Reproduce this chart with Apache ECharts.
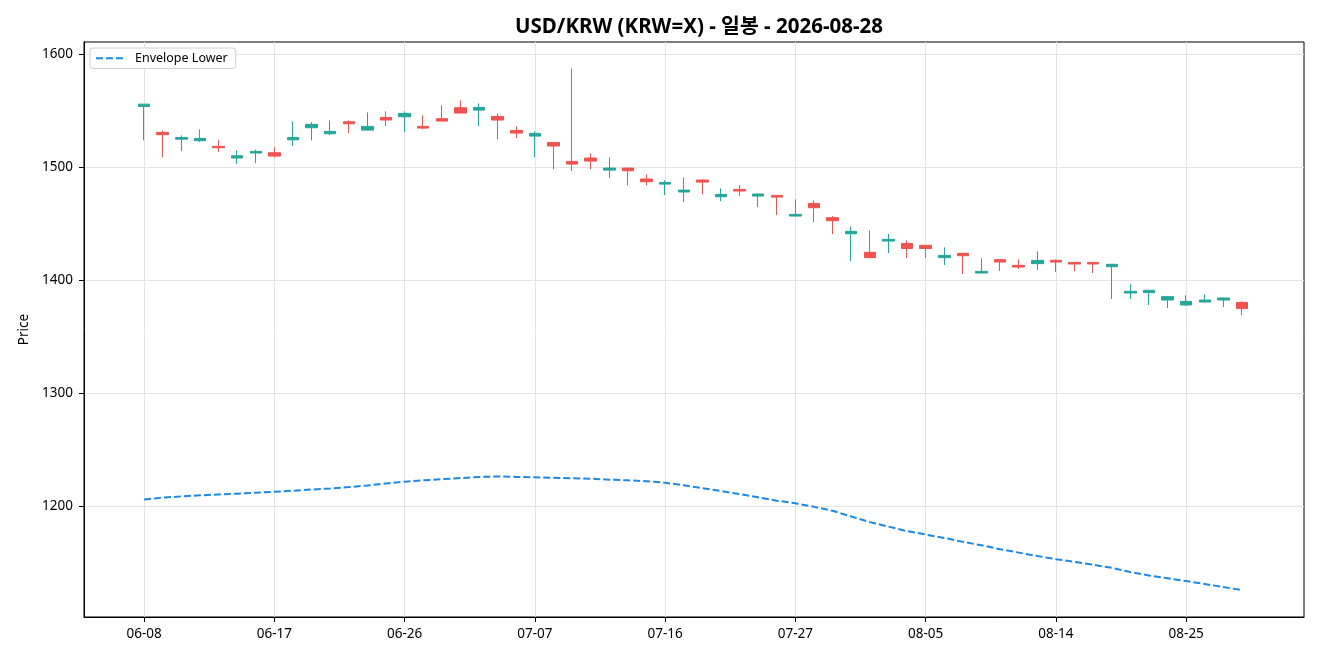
<!DOCTYPE html>
<html>
<head>
<meta charset="utf-8">
<script src="https://cdn.jsdelivr.net/npm/echarts@6/dist/echarts.min.js"></script>
<style>
  html, body { margin: 0; padding: 0; background: #fff; }
  #chart { width: 1320px; height: 660px; }
</style>
</head>
<body>
<div id="chart"></div>
<script>
// trading days (weekdays) 2026-06-08 .. 2026-08-28
const dates = [
  '06-08','06-09','06-10','06-11','06-12','06-15','06-16','06-17','06-18','06-19',
  '06-22','06-23','06-24','06-25','06-26','06-29','06-30','07-01','07-02','07-03',
  '07-06','07-07','07-08','07-09','07-10','07-13','07-14','07-15','07-16','07-17',
  '07-20','07-21','07-22','07-23','07-24','07-27','07-28','07-29','07-30','07-31',
  '08-03','08-04','08-05','08-06','08-07','08-10','08-11','08-12','08-13','08-14',
  '08-17','08-18','08-19','08-20','08-21','08-24','08-25','08-26','08-27','08-28'
];

const opens = [
  1554.0, 1531.0, 1525.0, 1523.6, 1518.6, 1508.3, 1512.7, 1513.0, 1524.4, 1535.1,
  1529.8, 1540.4, 1533.0, 1544.2, 1544.8, 1536.3, 1543.1, 1552.8, 1550.7, 1545.1,
  1532.7, 1527.7, 1522.1, 1505.3, 1508.3, 1497.6, 1499.4, 1489.7, 1485.2, 1478.2,
  1488.8, 1474.0, 1480.5, 1474.6, 1475.2, 1456.9, 1468.1, 1455.5, 1441.3, 1424.8,
  1434.8, 1432.7, 1431.0, 1420.1, 1423.9, 1406.5, 1418.3, 1413.3, 1414.8, 1417.7,
  1415.9, 1415.9, 1412.1, 1388.8, 1389.1, 1382.6, 1378.2, 1380.8, 1382.6, 1380.5
];
const closes = [
  1556.0, 1529.0, 1526.5, 1525.7, 1517.4, 1510.3, 1514.2, 1510.0, 1526.5, 1538.1,
  1531.9, 1538.6, 1536.3, 1541.9, 1547.8, 1534.8, 1541.0, 1548.1, 1553.1, 1541.9,
  1530.4, 1530.1, 1518.9, 1502.9, 1505.6, 1499.4, 1497.0, 1487.3, 1486.7, 1479.9,
  1487.0, 1476.1, 1479.1, 1476.4, 1473.7, 1458.4, 1464.3, 1452.8, 1443.4, 1420.1,
  1436.3, 1428.2, 1428.2, 1422.1, 1421.8, 1408.0, 1416.2, 1411.8, 1417.7, 1416.2,
  1414.5, 1414.5, 1414.2, 1390.3, 1391.2, 1385.6, 1381.4, 1382.6, 1384.4, 1375.0
];
const lows = [
  1524.0, 1509.0, 1514.5, 1522.4, 1513.6, 1503.0, 1503.8, 1508.8, 1518.9, 1523.9,
  1528.6, 1530.4, 1532.7, 1536.6, 1531.3, 1533.6, 1541.0, 1548.1, 1536.6, 1524.8,
  1526.0, 1509.1, 1498.5, 1496.8, 1498.5, 1490.6, 1484.1, 1484.1, 1475.5, 1469.3,
  1476.1, 1470.2, 1474.6, 1464.9, 1457.8, 1456.9, 1451.6, 1441.0, 1417.1, 1420.1,
  1424.2, 1419.8, 1419.8, 1413.6, 1405.6, 1406.5, 1408.3, 1410.0, 1409.1, 1407.4,
  1408.0, 1406.5, 1383.5, 1383.5, 1378.2, 1375.5, 1377.5, 1380.8, 1376.4, 1369.3
];
const highs = [
  1556.0, 1532.5, 1528.3, 1533.6, 1524.0, 1515.0, 1515.6, 1517.7, 1540.7, 1540.1,
  1541.6, 1541.6, 1548.7, 1549.6, 1549.6, 1546.0, 1554.9, 1559.3, 1556.6, 1547.8,
  1536.3, 1531.9, 1522.1, 1587.6, 1512.4, 1508.8, 1499.4, 1493.8, 1488.5, 1491.2,
  1489.4, 1481.4, 1484.4, 1477.0, 1475.2, 1471.7, 1470.8, 1456.9, 1447.8, 1444.2,
  1441.0, 1435.4, 1431.0, 1429.2, 1424.5, 1419.5, 1418.9, 1418.6, 1425.7, 1418.6,
  1415.9, 1416.0, 1414.2, 1396.5, 1391.2, 1385.9, 1386.7, 1387.6, 1385.0, 1381.4
];
const envelopeLower = [
  1206.0, 1207.6, 1208.8, 1209.7, 1210.5, 1211.2, 1212.0, 1212.8, 1213.8, 1214.8,
  1215.8, 1217.0, 1218.4, 1220.2, 1221.8, 1223.0, 1224.0, 1225.0, 1226.0, 1226.4,
  1226.0, 1225.6, 1225.2, 1224.8, 1224.4, 1223.6, 1223.0, 1222.2, 1220.8, 1218.6,
  1216.0, 1213.5, 1210.8, 1208.0, 1205.0, 1202.6, 1199.5, 1196.0, 1191.0, 1186.0,
  1182.0, 1178.0, 1175.0, 1172.0, 1168.5, 1165.5, 1162.0, 1159.0, 1156.0, 1153.2,
  1150.8, 1148.3, 1145.5, 1141.8, 1138.8, 1136.3, 1133.8, 1131.2, 1128.5, 1125.8
];
const xTicks = [0, 7, 14, 21, 28, 35, 42, 49, 56];
const yTicks = [1200, 1300, 1400, 1500, 1600];

const candleData = dates.map((d, i) => [i, opens[i], closes[i], lows[i], highs[i]]);
const envData = dates.map((d, i) => [i, envelopeLower[i]]);

const UP = '#26a69a', DOWN = '#ef5350';
const FONT = "'Noto Sans', 'Noto Sans CJK KR', sans-serif";

const chart = echarts.init(document.getElementById('chart'));
chart.setOption({
  animation: false,
  textStyle: { fontFamily: FONT },
  title: {
    text: 'USD/KRW (KRW=X) - 일봉 - 2026-08-28',
    left: 694, top: 12, textAlign: 'center',
    textStyle: { fontFamily: FONT, fontSize: 20.5, fontWeight: 'bold', color: '#000' }
  },
  legend: {
    data: ['Envelope Lower'],
    left: 90, top: 48,
    padding: [4, 8, 4, 5],
    itemWidth: 28, itemHeight: 14, itemGap: 6,
    backgroundColor: '#fff',
    borderColor: '#d0d0d0', borderWidth: 1, borderRadius: 3,
    itemStyle: { color: 'rgba(0,0,0,0)', borderWidth: 0 },
    textStyle: { fontFamily: FONT, fontSize: 12.5, color: '#000', padding: [0, 0, 0, 6] }
  },
  grid: {
    left: 84, right: 16, top: 42, bottom: 43,
    show: true, borderColor: '#000', borderWidth: 1, backgroundColor: '#fff'
  },
  xAxis: {
    type: 'value',
    min: -3.23, max: 62.33,
    axisLine: { show: true, onZero: false, lineStyle: { color: '#000' } },
    axisTick: { show: true, length: 5, customValues: xTicks, lineStyle: { color: '#000' } },
    axisLabel: {
      customValues: xTicks, margin: 10, fontSize: 13.5, color: '#000', fontFamily: FONT,
      formatter: v => dates[Math.round(v)]
    },
    splitLine: { show: true, lineStyle: { color: '#e3e3e3', width: 1 } }
  },
  yAxis: {
    type: 'value',
    min: 1102, max: 1611,
    name: 'Price', nameLocation: 'middle', nameGap: 53, nameRotate: 90,
    nameTextStyle: { fontFamily: FONT, fontSize: 13.5, color: '#000' },
    axisLine: { show: true, onZero: false, lineStyle: { color: '#000' } },
    axisTick: { show: true, length: 5, customValues: yTicks, lineStyle: { color: '#000' } },
    axisLabel: {
      customValues: yTicks, margin: 11, fontSize: 13.5, color: '#000', fontFamily: FONT,
      formatter: v => String(v)
    },
    splitLine: { show: true, lineStyle: { color: '#e3e3e3', width: 1 } }
  },
  series: [
    {
      name: 'OHLC',
      type: 'candlestick',
      data: candleData,
      encode: { x: 0, y: [1, 2, 3, 4] },
      barWidth: 12,
      itemStyle: {
        color: UP, color0: DOWN,
        borderColor: UP, borderColor0: DOWN,
        borderWidth: 1
      }
    },
    {
      name: 'Envelope Lower',
      type: 'line',
      data: envData,
      symbol: 'none',
      lineStyle: { color: '#1e88e5', width: 2, type: [7, 3] },
      itemStyle: { color: '#1e88e5' }
    }
  ]
});
</script>
</body>
</html>
